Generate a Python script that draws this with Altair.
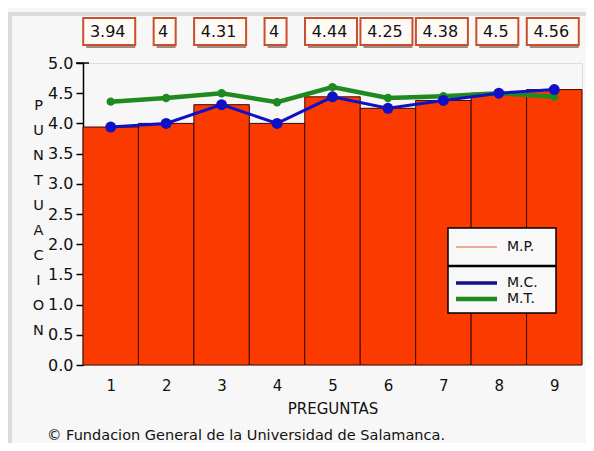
import altair as alt
import pandas as pd

preguntas = [1, 2, 3, 4, 5, 6, 7, 8, 9]
mp = [3.94, 4.0, 4.31, 4.0, 4.44, 4.25, 4.38, 4.5, 4.56]
mc = [3.94, 4.0, 4.31, 4.0, 4.44, 4.25, 4.38, 4.5, 4.56]
mt = [4.36, 4.42, 4.5, 4.35, 4.6, 4.42, 4.45, 4.5, 4.44]
labels = ["3.94", "4", "4.31", "4", "4.44", "4.25", "4.38", "4.5", "4.56"]
y_ticks = [0, 0.5, 1.0, 1.5, 2.0, 2.5, 3.0, 3.5, 4.0, 4.5, 5.0]
y_title = list("PUNTUACION")

df = pd.DataFrame({"p": preguntas, "mp": mp, "mc": mc, "mt": mt, "label": labels})

W, H = 499, 302
unit = W / 9.0
FONT = "DejaVu Sans"
BAR = "#fb3a00"
BLUE = "#1010c4"
GREEN = "#1f8a1f"

xs = alt.Scale(domain=[0.5, 9.5], nice=False, zero=False)
ys = alt.Scale(domain=[0, 5], nice=False)

XAXIS = alt.Axis(
    values=preguntas, format="d", title="PREGUNTAS", domain=False, ticks=False,
    labelPadding=13, labelFontSize=15, labelColor="#111", grid=False,
    titleFontSize=15, titleFontWeight="normal", titleColor="#111", titlePadding=8)
YAXIS = alt.Axis(
    values=y_ticks, format=".1f", tickSize=7, tickColor="#000", domainColor="#000",
    domainWidth=1.5, tickWidth=1.5, labelPadding=3, labelFontSize=16, labelColor="#111",
    labelOverlap=False, labelBound=False, labelFlush=False,
    grid=False, title=y_title, titleAngle=0, titleX=-45, titleY=35,
    titleBaseline="top", titleAlign="center", titleLineHeight=25,
    titleFontSize=14.5, titleFontWeight="normal", titleColor="#111")


def X(f):
    return alt.X(f, scale=xs, axis=XAXIS)


def Y(f):
    return alt.Y(f, scale=ys, axis=YAXIS)


base = alt.Chart(df).transform_calculate(
    x0="datum.p - 0.5", x1="datum.p + 0.5",
    sh="datum.p == 9 ? datum.mp : 0.3",
)

shadow = base.mark_rect(fill="#9c9c9c", xOffset=4, yOffset=4).encode(
    x=X("x0:Q"), x2="x1:Q", y=Y("sh:Q"), y2=alt.datum(0),
)

bars = base.mark_rect(fill=BAR, stroke="#3c0800", strokeWidth=1).encode(
    x=X("x0:Q"), x2="x1:Q", y=Y("mp:Q"), y2=alt.datum(0),
)

one = alt.Chart(alt.Data(values=[{}]))

topcap = one.mark_rule(color="#000", strokeWidth=1.5).encode(
    y=alt.YDatum(5, scale=ys, axis=YAXIS), x=alt.value(-7), x2=alt.value(6)
)

green = base.mark_line(color=GREEN, strokeWidth=4.5, point=alt.OverlayMarkDef(
    color=GREEN, size=70, filled=True, opacity=1)).encode(x=X("p:Q"), y=Y("mt:Q"))

blue = base.mark_line(color=BLUE, strokeWidth=3, point=alt.OverlayMarkDef(
    color=BLUE, size=120, filled=True, opacity=1)).encode(x=X("p:Q"), y=Y("mc:Q"))

boxes = base.transform_calculate(
    bw=f"(length(datum.label) * 10 + 9) / 2 / {unit}",
    bl="datum.p - datum.bw", br="datum.p + datum.bw",
)
box_shadow = boxes.mark_rect(fill="#a08a86", xOffset=0, yOffset=3).encode(
    x=X("bl:Q"), x2="br:Q", y=alt.value(-42), y2=alt.value(-15),
)
box = boxes.mark_rect(fill="#fffaf6", stroke="#c8502c", strokeWidth=2, xOffset=-3).encode(
    x=X("bl:Q"), x2="br:Q", y=alt.value(-45), y2=alt.value(-18),
)
box_text = base.mark_text(fontSize=16, color="#111", xOffset=-3, baseline="middle").encode(
    x=X("p:Q"), y=alt.value(-31), text="label:N"
)

leg_box = one.mark_rect(fill="#f8f8f8", stroke="#000", strokeWidth=1.5).encode(
    x=alt.value(365), x2=alt.value(473), y=alt.value(165), y2=alt.value(250))
leg_sep = one.mark_rule(color="#000", strokeWidth=2.5).encode(
    x=alt.value(365), x2=alt.value(473), y=alt.value(203))
leg_mp = one.mark_rule(color="#e0602c", strokeWidth=1.2).encode(
    x=alt.value(373), x2=alt.value(414), y=alt.value(184))
leg_mc = one.mark_rule(color="#10108a", strokeWidth=3.5).encode(
    x=alt.value(373), x2=alt.value(414), y=alt.value(220))
leg_mt = one.mark_rule(color=GREEN, strokeWidth=4.5).encode(
    x=alt.value(373), x2=alt.value(414), y=alt.value(236))
leg_t1 = one.mark_text(text="M.P.", fontSize=14, color="#111", align="left", baseline="middle").encode(
    x=alt.value(424), y=alt.value(184))
leg_t2 = one.mark_text(text="M.C.", fontSize=14, color="#111", align="left", baseline="middle").encode(
    x=alt.value(424), y=alt.value(220))
leg_t3 = one.mark_text(text="M.T.", fontSize=14, color="#111", align="left", baseline="middle").encode(
    x=alt.value(424), y=alt.value(236))

footer = one.mark_text(text="© Fundacion General de la Universidad de Salamanca.", fontSize=14.5,
                       color="#111", align="left", baseline="middle").encode(
    x=alt.value(-36), y=alt.value(373))

frame_left = one.mark_rect(fill="#dcdcdc").encode(
    x=alt.value(-75), x2=alt.value(-71), y=alt.value(-51), y2=alt.value(380))
frame_top = one.mark_rect(fill="#dcdcdc").encode(
    x=alt.value(-75), x2=alt.value(504), y=alt.value(-51), y2=alt.value(-47))

chart = alt.layer(
    shadow, bars, frame_left, frame_top, topcap, green, blue,
    box_shadow, box, box_text,
    leg_box, leg_sep, leg_mp, leg_mc, leg_mt, leg_t1, leg_t2, leg_t3,
    footer,
).properties(
    width=W, height=H,
    autosize=alt.AutoSizeParams(type="none"),
    padding={"left": 75, "top": 55, "right": 4, "bottom": 78},
    background="#f7f7f7",
).configure_view(stroke=None).configure(font=FONT)

chart.save("out.html", embed_options={"renderer": "svg", "actions": False})
